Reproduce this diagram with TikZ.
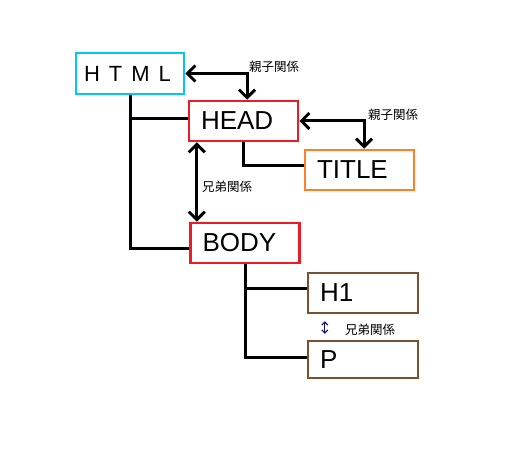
\documentclass[tikz,border=0pt]{standalone}
\usepackage{fontspec}
\setmainfont{Liberation Sans}
\newfontfamily\jp{Noto Sans CJK JP}
\usetikzlibrary{arrows.meta}
\definecolor{htmlcyan}{RGB}{0,200,240}
\definecolor{tagred}{RGB}{237,28,36}
\definecolor{tagorange}{RGB}{255,127,39}
\definecolor{tagbrown}{RGB}{120,80,50}
\definecolor{arrownavy}{RGB}{20,20,110}
\begin{document}
\begin{tikzpicture}[x=1pt, y=-1pt,
  tagbox/.style={draw, line width=2.5pt, fill=white, minimum height=40pt, text width=85pt, inner xsep=12pt, align=left, font=\fontsize{26}{28}\selectfont},
  relarrow/.style={line width=3pt, {Straight Barb[length=8pt,width=16pt]}-{Straight Barb[length=8pt,width=16pt]}},
  rel/.style={font=\jp\fontsize{12.5}{14}\selectfont, inner sep=0pt}]
\useasboundingbox (0,0) rectangle (505,454);
\node[tagbox, draw=htmlcyan, inner xsep=8pt, text width=92pt, font=\fontsize{22}{24}\selectfont, minimum height=41pt] (html) at (130,73.5){H\hspace{9pt}T\hspace{9pt}M\hspace{9pt}L};
\node[tagbox, draw=tagred] (head) at (243.5,121){HEAD};
\node[tagbox, draw=tagorange] (title) at (359.5,170){TITLE};
\node[tagbox, draw=tagred] (body) at (245,243){BODY};
\node[tagbox, draw=tagbrown, text width=86pt] (h1) at (363,293){H1};
\node[tagbox, draw=tagbrown, text width=86pt, minimum height=37pt] (p) at (363,359.5){P};
% tree lines
\draw[line width=3pt] (html.south) |- ([yshift=2pt]head.west);
\draw[line width=3pt] (html.south) |- ([yshift=-5pt]body.west);
\draw[line width=3pt] (head.south) |- ([yshift=4pt]title.west);
\draw[line width=3pt] (body.south) |- ([yshift=5pt]h1.west);
\draw[line width=3pt] (body.south) |- ([yshift=2pt]p.west);
% relations
\draw[relarrow] (html.east) -| ([xshift=3.5pt]head.north);
\node[rel] (rel1) at (274,66.5){親子関係};
\draw[relarrow] (head.east) -| ([xshift=4.5pt]title.north);
\node[rel] (rel2) at (393,115){親子関係};
\draw[relarrow] ([xshift=9pt]head.south west) -- ([xshift=9pt]head.south west |- body.north);
\node[rel] (rel3) at (227,187){兄弟関係};
\draw[arrownavy, line width=1.2pt, {Straight Barb[length=3pt,width=6pt]}-{Straight Barb[length=3pt,width=6pt]}] ([xshift=18pt,yshift=-7pt]h1.south west) -- ([xshift=18pt,yshift=6pt]p.north west);
\node[rel] (rel4) at (370,330){兄弟関係};
\end{tikzpicture}
\end{document}
